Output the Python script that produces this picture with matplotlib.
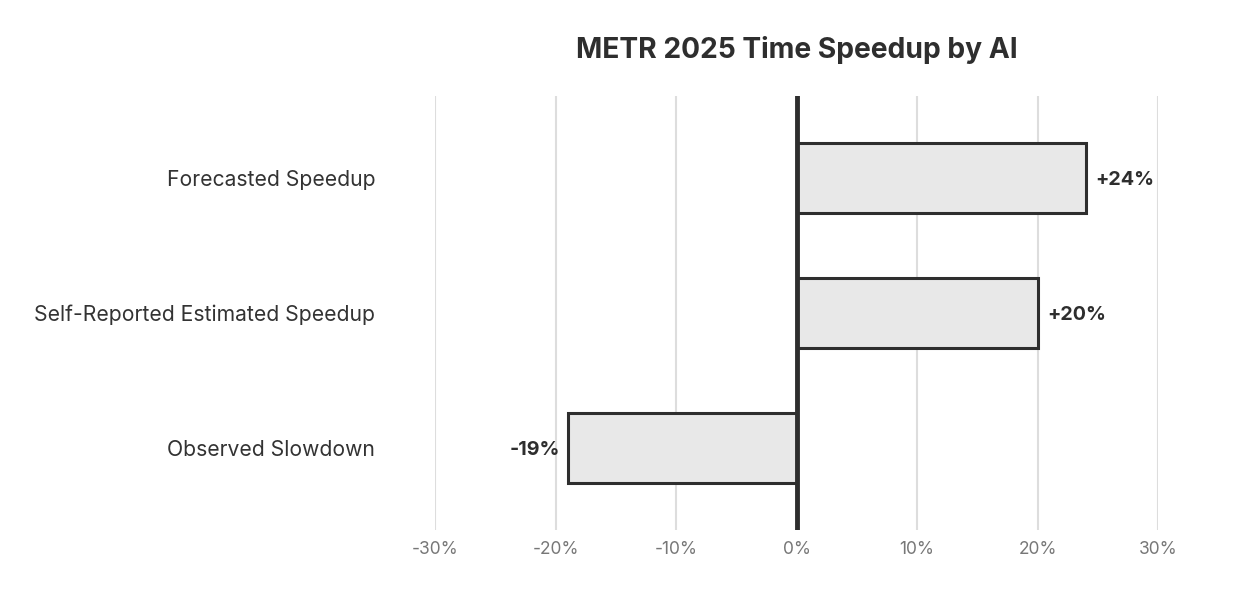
import matplotlib
matplotlib.use("Agg")
from matplotlib import pyplot as plt

categories = ["Forecasted Speedup", "Self-Reported Estimated Speedup", "Observed Slowdown"]
values = [24, 20, -19]
value_labels = ["+24%", "+20%", "-19%"]
x_ticks = [-30, -20, -10, 0, 10, 20, 30]
x_tick_labels = ["-30%", "-20%", "-10%", "0%", "10%", "20%", "30%"]

plt.rcParams['font.family'] = ['Inter', 'DejaVu Sans']

dark = '#2e2e2e'
fig = plt.figure(figsize=(12.48, 5.91), dpi=100)
ax = fig.add_axes([435 / 1248, 1 - 530 / 591, (1158 - 435) / 1248, (530 - 96) / 591])

ypos = list(range(len(categories)))
ax.barh(ypos, values, height=0.525, color='#e8e8e8', edgecolor=dark, linewidth=2.2, zorder=3)
ax.axvline(0, color=dark, linewidth=3.5, zorder=4)

for y, v, lab in zip(ypos, values, value_labels):
    if v >= 0:
        ax.text(v + 0.8, y, lab, ha='left', va='center_baseline', fontsize=14.2, fontweight='bold', color=dark)
    else:
        ax.text(v - 0.6, y, lab, ha='right', va='center_baseline', fontsize=14.2, fontweight='bold', color=dark)

ax.set_xlim(-30, 30)
ax.set_ylim(2.607, -0.607)
ax.set_xticks(x_ticks)
ax.set_xticklabels(x_tick_labels, fontsize=12.5, color='#777777')
ax.set_yticks(ypos)
ax.set_yticklabels(categories, fontsize=15.2, color='#333333')
ax.tick_params(axis='both', length=0)
ax.tick_params(axis='x', pad=8)
ax.tick_params(axis='y', pad=43)
ax.grid(axis='x', color='#dddddd', linewidth=1.5, zorder=0)
for s in ax.spines.values():
    s.set_visible(False)

fig.text((435 + 1158) / 2 / 1248, 1 - 50 / 591, "METR 2025 Time Speedup by AI",
         ha='center', va='center', fontsize=20.3, fontweight='bold', color=dark)

fig.savefig("out.png", dpi=100, facecolor='white')
